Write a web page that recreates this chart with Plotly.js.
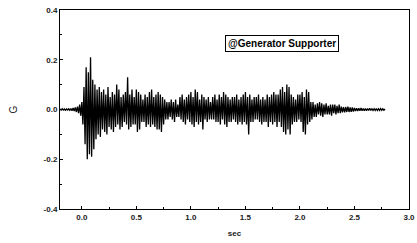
<!DOCTYPE html>
<html>
<head>
<meta charset="utf-8">
<script src="https://cdn.plot.ly/plotly-3.0.1.min.js"></script>
<style>html,body{margin:0;padding:0;background:#fff;}#chart{width:417px;height:243px;}</style>
</head>
<body>
<div id="chart"></div>
<script>
// Acceleration record (G), sampled every 0.01 s starting at -0.2 s
const startTime = -0.2;
const sampleStep = 0.01;
const accel = [
  0.002,-0.002,0.003,-0.002,0.002,-0.003,0.002,-0.002,0.003,-0.003,
  0.004,-0.005,0.006,-0.006,0.008,-0.01,0.012,-0.015,0.02,-0.025,
  0.03,-0.06,0.09,-0.14,0.17,-0.2,0.15,-0.18,0.21,-0.19,
  0.12,-0.16,0.1,-0.12,0.08,-0.1,0.09,-0.11,0.07,-0.08,
  0.08,-0.09,0.06,-0.1,0.09,-0.07,0.05,-0.08,0.07,-0.09,
  0.06,-0.07,0.1,-0.06,0.08,-0.08,0.05,-0.07,0.06,-0.05,
  0.07,-0.06,0.13,-0.08,0.06,-0.07,0.08,-0.06,0.05,-0.06,
  0.08,-0.09,0.07,-0.08,0.06,-0.05,0.04,-0.05,0.06,-0.07,
  0.05,-0.06,0.07,-0.07,0.08,-0.06,0.05,-0.07,0.06,-0.08,
  0.07,-0.08,0.06,-0.09,0.05,-0.06,0.04,-0.04,0.03,-0.04,
  0.03,-0.03,0.04,-0.04,0.03,-0.05,0.04,-0.03,0.02,-0.03,
  0.05,-0.04,0.06,-0.05,0.04,-0.06,0.05,-0.04,0.06,-0.05,
  0.07,-0.06,0.05,-0.07,0.08,-0.05,0.07,-0.06,0.04,-0.05,
  0.06,-0.08,0.05,-0.04,0.04,-0.05,0.05,-0.04,0.03,-0.04,
  0.05,-0.04,0.06,-0.05,0.04,-0.05,0.06,-0.06,0.05,-0.04,
  0.07,-0.06,0.06,-0.07,0.05,-0.05,0.04,-0.05,0.05,-0.04,
  0.05,-0.05,0.06,-0.06,0.04,-0.05,0.05,-0.06,0.06,-0.05,
  0.07,-0.06,0.05,-0.1,0.06,-0.05,0.04,-0.05,0.05,-0.04,
  0.05,-0.04,0.06,-0.05,0.04,-0.06,0.05,-0.05,0.04,-0.05,
  0.06,-0.07,0.05,-0.05,0.06,-0.06,0.07,-0.05,0.06,-0.07,
  0.06,-0.05,0.08,-0.07,0.09,-0.09,0.07,-0.1,0.1,-0.08,
  0.09,-0.1,0.06,-0.06,0.05,-0.05,0.04,-0.05,0.06,-0.04,
  0.06,-0.05,0.07,-0.09,0.05,-0.1,0.08,-0.06,0.07,-0.05,
  0.03,-0.04,0.03,-0.03,0.02,-0.03,0.025,-0.02,0.03,-0.025,
  0.025,-0.03,0.02,-0.02,0.025,-0.02,0.015,-0.02,0.02,-0.025,
  0.02,-0.015,0.02,-0.02,0.015,-0.015,0.02,-0.015,0.012,-0.012,
  0.01,-0.012,0.01,-0.01,0.012,-0.01,0.008,-0.009,0.008,-0.008,
  0.006,-0.006,0.005,-0.006,0.005,-0.005,0.006,-0.005,0.004,-0.005,
  0.004,-0.005,0.004,-0.004,0.005,-0.004,0.004,-0.004,0.003,-0.004,
  0.004,-0.004,0.003,-0.004,0.004,-0.003,0.003,-0.003,0.002
];
const xTicks = [0, 0.5, 1.0, 1.5, 2.0, 2.5, 3.0];
const xTickText = ["0.0", "0.5", "1.0", "1.5", "2.0", "2.5", "3.0"];
const yTicks = [-0.4, -0.2, 0.0, 0.2, 0.4];
const yTickText = ["-0.4", "-0.2", "0.0", "0.2", "0.4"];
const seriesLabel = "@Generator Supporter";

const tickFont = {family: "Liberation Sans, Arial, sans-serif", size: 8, color: "#1a1a1a", weight: "bold"};

const trace = {
  type: "scatter",
  mode: "lines",
  x0: startTime,
  dx: sampleStep,
  y: accel,
  line: {color: "#000", width: 1.3},
  showlegend: false,
  hoverinfo: "skip"
};

const layout = {
  width: 417, height: 243,
  margin: {l: 60, r: 8, t: 10, b: 34},
  paper_bgcolor: "#fff", plot_bgcolor: "#fff",
  showlegend: false,
  xaxis: {
    range: [-0.2, 3.0],
    tickmode: "array", tickvals: xTicks, ticktext: xTickText,
    ticks: "inside", ticklen: 3, tickcolor: "#000", tickwidth: 1,
    minor: {dtick: 0.25, tick0: 0, ticks: "inside", ticklen: 2, tickcolor: "#000", showgrid: false},
    showgrid: false, zeroline: false,
    showline: true, linecolor: "#000", linewidth: 1, mirror: true,
    tickfont: tickFont,
    title: {text: "sec", font: tickFont, standoff: 9}
  },
  yaxis: {
    range: [-0.4, 0.4],
    tickmode: "array", tickvals: yTicks, ticktext: yTickText,
    ticks: "inside", ticklen: 3, tickcolor: "#000", tickwidth: 1,
    minor: {dtick: 0.1, tick0: 0, ticks: "inside", ticklen: 2, tickcolor: "#000", showgrid: false},
    showgrid: false, zeroline: false,
    showline: true, linecolor: "#000", linewidth: 1, mirror: true,
    tickfont: tickFont,
    title: {text: "G", font: {family: "Liberation Sans, Arial, sans-serif", size: 10, color: "#1a1a1a"}, standoff: 24}
  },
  annotations: [{
    xref: "paper", yref: "paper",
    x: 0.636, y: 0.83, xanchor: "center", yanchor: "middle",
    text: seriesLabel, showarrow: false,
    font: {family: "Liberation Sans, Arial, sans-serif", size: 10, color: "#000", weight: "bold"},
    bordercolor: "#000", borderwidth: 1, borderpad: 2, bgcolor: "#fff"
  }]
};

Plotly.newPlot("chart", [trace], layout, {staticPlot: true, displayModeBar: false});
</script>
</body>
</html>
